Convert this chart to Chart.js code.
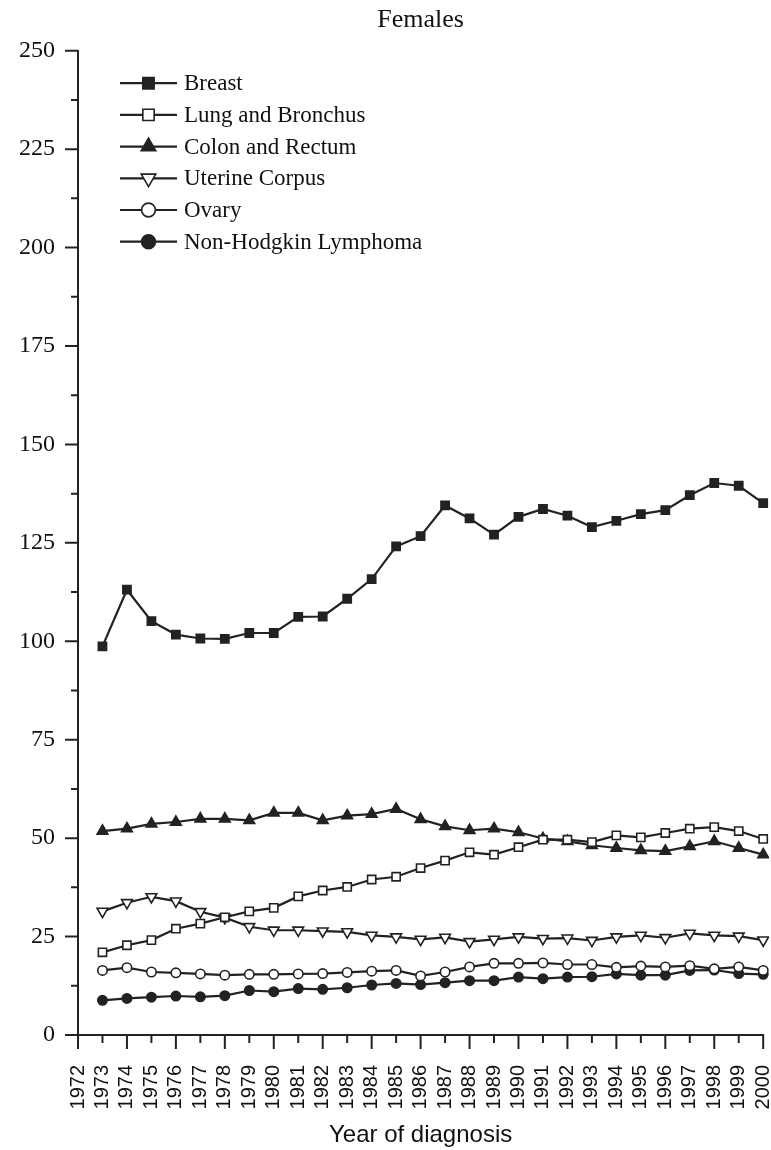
<!DOCTYPE html>
<html>
<head>
<meta charset="utf-8">
<title>Females</title>
<script src="https://cdn.jsdelivr.net/npm/chart.js@4.4.1/dist/chart.umd.min.js"></script>
<style>
  html, body { margin: 0; padding: 0; background: #fff; }
  #wrap { position: relative; width: 771px; height: 1150px; }
</style>
</head>
<body>
<div id="wrap"><canvas id="chart"></canvas></div>
<script>
// Data (rate per 100,000, females)
const years = [1973, 1974, 1975, 1976, 1977, 1978, 1979, 1980, 1981, 1982, 1983, 1984, 1985, 1986,
               1987, 1988, 1989, 1990, 1991, 1992, 1993, 1994, 1995, 1996, 1997, 1998, 1999, 2000];
const breast = [98.7, 113.1, 105.1, 101.7, 100.7, 100.6, 102.1, 102.1, 106.2, 106.3, 110.8, 115.8, 124.1, 126.7,
                134.5, 131.2, 127.1, 131.6, 133.6, 131.9, 129.0, 130.6, 132.3, 133.3, 137.1, 140.2, 139.5, 135.1];
const lung = [21.0, 22.8, 24.1, 27.0, 28.3, 29.9, 31.4, 32.3, 35.2, 36.7, 37.6, 39.5, 40.2, 42.4,
              44.3, 46.4, 45.8, 47.7, 49.6, 49.6, 49.0, 50.7, 50.2, 51.3, 52.4, 52.8, 51.8, 49.8];
const colon = [51.8, 52.4, 53.6, 54.1, 54.9, 54.9, 54.5, 56.4, 56.4, 54.5, 55.7, 56.1, 57.4, 54.8,
               53.0, 52.0, 52.4, 51.5, 49.9, 49.2, 48.2, 47.5, 46.9, 46.7, 47.9, 49.2, 47.5, 45.8];
const uterine = [31.4, 33.6, 35.1, 34.0, 31.3, 29.8, 27.5, 26.6, 26.6, 26.4, 26.2, 25.3, 24.9, 24.3,
                 24.8, 23.7, 24.3, 24.9, 24.5, 24.6, 24.0, 24.9, 25.3, 24.7, 25.8, 25.3, 25.1, 24.1];
const ovary = [16.4, 17.1, 16.0, 15.8, 15.5, 15.2, 15.4, 15.4, 15.5, 15.6, 15.9, 16.2, 16.4, 15.0,
               16.0, 17.3, 18.2, 18.2, 18.3, 17.9, 17.9, 17.2, 17.5, 17.3, 17.6, 16.8, 17.3, 16.4];
const nhl = [8.8, 9.3, 9.6, 9.9, 9.7, 10.0, 11.3, 11.0, 11.8, 11.6, 12.0, 12.7, 13.1, 12.8,
             13.3, 13.8, 13.8, 14.7, 14.3, 14.7, 14.8, 15.5, 15.2, 15.2, 16.4, 16.5, 15.6, 15.4];

const seriesNames = ["Breast", "Lung and Bronchus", "Colon and Rectum", "Uterine Corpus", "Ovary", "Non-Hodgkin Lymphoma"];

const INK = "#222";
const SERIF = "'Liberation Serif', 'Times New Roman', serif";
const SANS = "'Liberation Sans', Arial, sans-serif";

const toPoints = (vals) => vals.map((v, i) => ({ x: years[i], y: v }));

const makeSet = (label, vals, style, fill, radius, rotation) => ({
  label: label,
  data: toPoints(vals),
  borderColor: INK,
  borderWidth: 2.2,
  tension: 0,
  pointStyle: style,
  pointRotation: rotation || 0,
  pointRadius: radius,
  pointHoverRadius: radius,
  pointBackgroundColor: fill,
  pointBorderColor: INK,
  pointBorderWidth: 1.6,
  clip: 6,
});

const datasets = [
  makeSet(seriesNames[0], breast, "rect", INK, 5.8),
  makeSet(seriesNames[1], lung, "rect", "#fff", 5.8),
  makeSet(seriesNames[2], colon, "triangle", INK, 6.2),
  makeSet(seriesNames[3], uterine, "triangle", "#fff", 6.2, 180),
  makeSet(seriesNames[4], ovary, "circle", "#fff", 4.7),
  makeSet(seriesNames[5], nhl, "circle", INK, 4.7),
];

// Outward tick marks: long on the labelled values, short in between
const tickMarks = {
  id: "tickMarks",
  afterDraw(chart) {
    const { ctx, chartArea, scales } = chart;
    ctx.save();
    ctx.strokeStyle = INK;
    ctx.lineWidth = 2;
    ctx.beginPath();
    scales.x.ticks.forEach((t) => {
      const px = scales.x.getPixelForValue(t.value);
      const len = t.value % 2 === 0 ? 14 : 8;
      ctx.moveTo(px, chartArea.bottom);
      ctx.lineTo(px, chartArea.bottom + len);
    });
    scales.y.ticks.forEach((t, i) => {
      let py = scales.y.getPixelForValue(t.value);
      ctx.moveTo(chartArea.left - 13, py);
      ctx.lineTo(chartArea.left, py);
      if (i < scales.y.ticks.length - 1) {
        py = scales.y.getPixelForValue(t.value + 12.5);
        ctx.moveTo(chartArea.left - 7, py);
        ctx.lineTo(chartArea.left, py);
      }
    });
    ctx.stroke();
    ctx.restore();
  },
};

// Legend drawn inside the plot: short line with the marker on it, then the name
const insideLegend = {
  id: "insideLegend",
  afterDraw(chart) {
    const { ctx, chartArea } = chart;
    const x0 = chartArea.left + 42;
    const y0 = chartArea.top + 32.5;
    ctx.save();
    chart.data.datasets.forEach((ds, i) => {
      const y = y0 + i * 31.7;
      ctx.strokeStyle = INK;
      ctx.lineWidth = 2.2;
      ctx.beginPath();
      ctx.moveTo(x0, y);
      ctx.lineTo(x0 + 57, y);
      ctx.stroke();
      ctx.fillStyle = ds.pointBackgroundColor;
      ctx.lineWidth = 1.6;
      Chart.helpers.drawPoint(ctx, {
        pointStyle: ds.pointStyle,
        rotation: ds.pointRotation,
        radius: ds.pointRadius + 2.2,
        borderWidth: 1.6,
      }, x0 + 28.5, y);
      ctx.fillStyle = "#111";
      ctx.font = "23px " + SERIF;
      ctx.textBaseline = "middle";
      ctx.textAlign = "left";
      ctx.fillText(ds.label, x0 + 64, y + 1);
    });
    ctx.restore();
  },
};

const ctx = document.getElementById("chart").getContext("2d");
new Chart(ctx, {
  type: "line",
  data: { datasets: datasets },
  plugins: [tickMarks, insideLegend],
  options: {
    responsive: true,
    maintainAspectRatio: false,
    animation: false,
    layout: { padding: { left: 0, right: 4.5, top: 0, bottom: 0 } },
    plugins: {
      legend: { display: false },
      tooltip: { enabled: false },
      title: {
        display: true,
        text: "Females",
        fullSize: false,
        color: "#111",
        font: { family: SERIF, size: 26, weight: "normal", lineHeight: 1.2 },
        padding: { top: 5, bottom: 14.5 },
      },
    },
    scales: {
      x: {
        type: "linear",
        min: 1972,
        max: 2000,
        offset: false,
        grid: { display: false, drawTicks: false },
        border: { display: true, color: INK, width: 2 },
        ticks: {
          stepSize: 1,
          autoSkip: false,
          minRotation: 90,
          maxRotation: 90,
          padding: 30,
          color: "#111",
          font: { family: SANS, size: 20 },
          callback: (v) => String(v),
        },
        title: {
          display: true,
          text: "Year of diagnosis",
          color: "#111",
          font: { family: SANS, size: 24, lineHeight: 1.2 },
          padding: { top: 0, bottom: 0 },
        },
        afterFit(scale) {
          scale.height = 115;
          scale.paddingLeft = 0;
          scale.paddingRight = 0;
        },
      },
      y: {
        min: 0,
        max: 250,
        grid: { display: false, drawTicks: false },
        border: { display: true, color: INK, width: 2 },
        ticks: {
          stepSize: 25,
          padding: 23,
          color: "#111",
          font: { family: SERIF, size: 24 },
        },
        afterFit(scale) {
          scale.width = 78;
          scale.paddingTop = 0;
          scale.paddingBottom = 0;
        },
      },
    },
  },
});
</script>
</body>
</html>
